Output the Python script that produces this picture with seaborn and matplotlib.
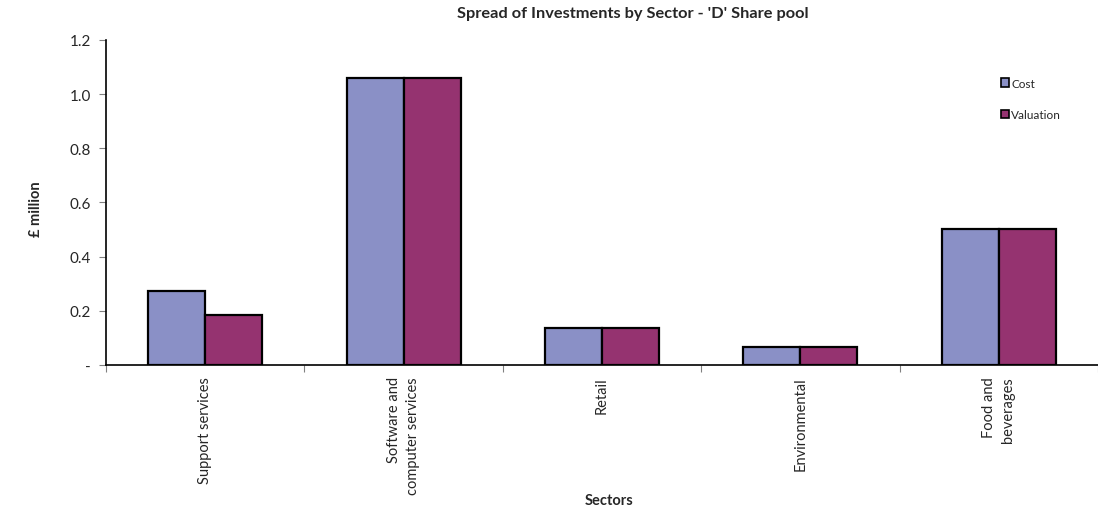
import matplotlib
matplotlib.use("Agg")
import matplotlib.pyplot as plt
import seaborn as sns
import pandas as pd
import numpy as np

sectors = ["Support services", "Software and\ncomputer services", "Retail",
           "Environmental", "Food and\nbeverages"]
cost = [0.274, 1.06, 0.136, 0.066, 0.502]
valuation = [0.184, 1.06, 0.136, 0.066, 0.502]
series_names = ["Cost", "Valuation"]
y_ticks = [0.0, 0.2, 0.4, 0.6, 0.8, 1.0, 1.2]
y_tick_labels = ["-", "0.2", "0.4", "0.6", "0.8", "1.0", "1.2"]

sns.set_style("white")
plt.rcParams["font.family"] = ["Lato", "DejaVu Sans"]

df = pd.DataFrame({
    "Sector": sectors * 2,
    "Value": cost + valuation,
    "Series": [series_names[0]] * len(sectors) + [series_names[1]] * len(sectors),
})

fig = plt.figure(figsize=(10.98, 5.10), dpi=100)
ax = fig.add_axes([106 / 1098, 1 - 366 / 510, 992 / 1098, 325 / 510])

sns.barplot(data=df, x="Sector", y="Value", hue="Series", ax=ax,
            palette=["#8A90C6", "#953370"], width=0.574,
            edgecolor="black", linewidth=1.6, saturation=1)

ax.set_xlim(-0.5, -0.5 + 992 / 200.4)
ax.set_ylim(0, 1.2)
ax.set_yticks(y_ticks)
ax.set_yticklabels(y_tick_labels, fontsize=11)

# category boundaries carry the tick marks; labels sit at centres
n = len(sectors)
ax.set_xticks(np.arange(n))
ax.set_xticklabels(sectors, rotation=90, fontsize=10.5, ha="center", va="top",
                   multialignment="right", linespacing=1.45)
ax.tick_params(axis="x", which="major", length=0, pad=8)
ax.set_xticks(np.arange(n + 1) - 0.5, minor=True)
ax.tick_params(axis="x", which="minor", length=5, width=0.8, color="#808080",
               bottom=True, direction="out")
ax.tick_params(axis="y", length=5, width=0.8, color="#808080", left=True,
               direction="out", pad=6)

for side in ["top", "right"]:
    ax.spines[side].set_visible(False)
for side in ["left", "bottom"]:
    ax.spines[side].set_color("black")
    ax.spines[side].set_linewidth(1.2)

ax.set_xlabel("Sectors", fontsize=10.5, fontweight="bold", va="center")
ax.xaxis.set_label_coords((609 - 106) / 992, (366 - 501) / 325)
ax.set_ylabel("£ million", fontsize=10.5, fontweight="bold", va="center")
ax.yaxis.set_label_coords((36 - 106) / 992, (366 - 209) / 325)

fig.text(633 / 1098, 1 - 14 / 510, "Spread of Investments by Sector - 'D' Share pool",
         ha="center", va="center", fontsize=11.8, fontweight="bold")

leg = ax.legend(loc="upper left", bbox_to_anchor=((996 - 106) / 992, (366 - 74) / 325),
                frameon=False, fontsize=8.5, handlelength=0.7, handleheight=0.7,
                handletextpad=0.2, labelspacing=1.7, borderaxespad=0)
for h in leg.legend_handles:
    h.set_linewidth(1.2)

fig.savefig("out.png", dpi=100)
